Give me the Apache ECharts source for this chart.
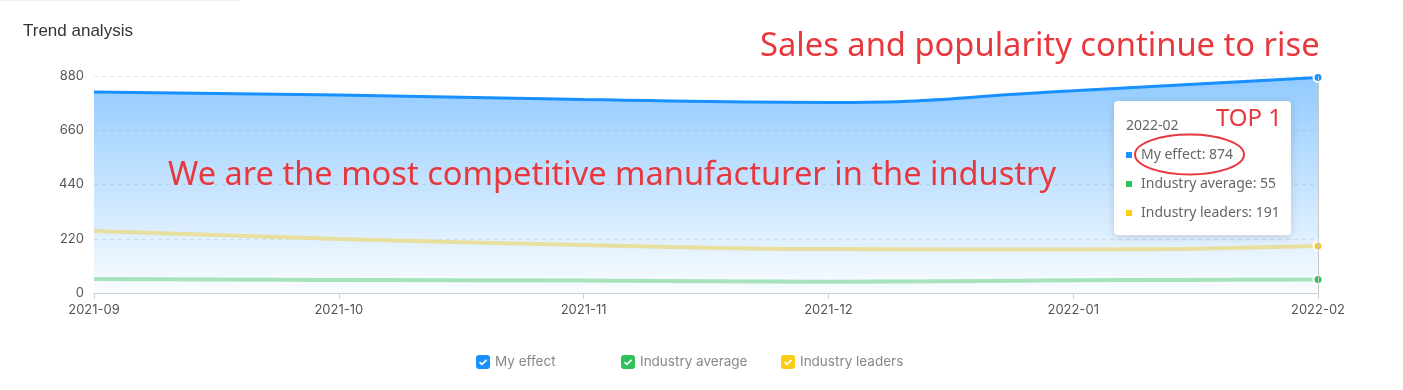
<!DOCTYPE html>
<html><head><meta charset="utf-8">
<script src="https://cdn.jsdelivr.net/npm/echarts@6/dist/echarts.min.js"></script>
<style>html,body{margin:0;padding:0;background:#fff}#c{width:1403px;height:390px}</style>
</head><body><div id="c"></div>
<script>
const categories = ['2021-09','2021-10','2021-11','2021-12','2022-01','2022-02'];
const myEffect = [815, 803, 785, 773, 820, 874];
const industryAverage = [57, 53, 51, 46, 52, 55];
const industryLeaders = [251, 219, 195, 178, 176, 191];
const yTicks = [0, 220, 440, 660, 880];
const seriesNames = ['My effect', 'Industry average', 'Industry leaders'];
const colors = ['#1890ff', '#2fc25b', '#facc14'];
const lineColors = ['#1890ff', '#a6e3bb', '#e8df9e'];

const checkIcon = 'path://M3 0H11Q14 0 14 3V11Q14 14 11 14H3Q0 14 0 11V3Q0 0 3 0ZM3.0 7.7L5.8 10.5L11.2 5.5L10.0 4.3L5.8 8.3L4.2 6.6Z';

const last = categories.length - 1;
function withEndSymbol(arr, color) {
  return arr.map((v, i) => i === last ? {value: v, symbol: 'circle', symbolSize: 9,
    itemStyle: {color: color, borderColor: '#fff', borderWidth: 2}} : {value: v, symbol: 'none'});
}

const tipFont = '14px "Noto Sans", sans-serif';
const allData = [myEffect, industryAverage, industryLeaders];
const legendLefts = [471, 616, 776];
const axisFont = 'Inter, "Noto Sans", sans-serif';

const chart = echarts.init(document.getElementById('c'));
chart.setOption({
  animation: false,
  title: {text: 'Trend analysis', left: 18, top: 18,
    textStyle: {fontSize: 17, fontWeight: 'normal', color: '#333', fontFamily: '"Liberation Sans", Arial, sans-serif'}},
  grid: {left: 94, right: 85, top: 76, bottom: 97},
  legend: seriesNames.map((n, i) => ({
    bottom: 16, left: legendLefts[i], itemWidth: 14, itemHeight: 14, icon: checkIcon,
    textStyle: {color: '#888', fontSize: 13.5, fontFamily: axisFont},
    data: [n]
  })),
  xAxis: {
    type: 'category', data: categories, boundaryGap: false,
    axisLine: {lineStyle: {color: '#d0d0d0'}},
    axisTick: {show: true, lineStyle: {color: '#d0d0d0'}, length: 6},
    axisLabel: {color: '#555', fontSize: 13, margin: 11, fontFamily: axisFont}
  },
  yAxis: {
    type: 'value', min: 0, max: yTicks[yTicks.length - 1], interval: yTicks[1] - yTicks[0],
    axisLine: {show: false}, axisTick: {show: false},
    axisLabel: {color: '#555', fontSize: 13, margin: 10, fontFamily: axisFont},
    splitLine: {lineStyle: {color: '#e8e8e8', type: [4, 4]}}
  },
  series: [
    {name: seriesNames[0], type: 'line', smooth: true, showSymbol: true, z: 2,
      data: withEndSymbol(myEffect, colors[0]),
      itemStyle: {color: colors[0]},
      lineStyle: {color: lineColors[0], width: 3},
      areaStyle: {color: new echarts.graphic.LinearGradient(0, 0, 0, 1, [
        {offset: 0, color: 'rgba(24,144,255,0.68)'},
        {offset: 1, color: 'rgba(24,144,255,0.03)'}])},
      markLine: {silent: true, symbol: 'none', label: {show: false},
        lineStyle: {color: '#c8c8c8', type: 'solid', width: 1},
        data: [{xAxis: categories[last]}]}
    },
    {name: seriesNames[1], type: 'line', smooth: true, showSymbol: true, z: 3,
      data: withEndSymbol(industryAverage, colors[1]),
      itemStyle: {color: colors[1]},
      lineStyle: {color: lineColors[1], width: 4}},
    {name: seriesNames[2], type: 'line', smooth: true, showSymbol: true, z: 3,
      data: withEndSymbol(industryLeaders, colors[2]),
      itemStyle: {color: colors[2]},
      lineStyle: {color: lineColors[2], width: 4}}
  ],
  graphic: [
    {type: 'line', shape: {x1: 0, y1: 0.5, x2: 240, y2: 0.5}, style: {stroke: '#eeeeee', lineWidth: 1}},
    {type: 'text', left: 760, top: 30, zlevel: 1,
      style: {text: 'Sales and popularity continue to rise', fill: '#e8383d', font: '32.7px "Noto Sans", sans-serif'}},
    {type: 'text', left: 168, top: 159, zlevel: 1,
      style: {text: 'We are the most competitive manufacturer in the industry', fill: '#e8383d', font: '32.6px "Noto Sans", sans-serif'}},
    {type: 'rect', zlevel: 1, z: 10, shape: {x: 1114, y: 101, width: 177, height: 134, r: 4},
      style: {fill: '#ffffff', shadowBlur: 8, shadowColor: 'rgba(0,0,0,0.15)', shadowOffsetY: 2}},
    {type: 'text', zlevel: 1, z: 11, x: 1126, y: 126, style: {text: categories[last], fill: '#666', font: tipFont, verticalAlign: 'middle'}},
    ...allData.flatMap((arr, i) => [
      {type: 'rect', zlevel: 1, z: 11, shape: {x: 1126, y: 152 + i * 29, width: 6, height: 6}, style: {fill: colors[i]}},
      {type: 'text', zlevel: 1, z: 11, x: 1141, y: 155 + i * 29, style: {text: seriesNames[i] + ': ' + arr[last], fill: '#666', font: tipFont, verticalAlign: 'middle'}}
    ]),
    {type: 'text', zlevel: 1, z: 12, x: 1216, y: 119, style: {text: 'TOP 1', fill: '#e8383d', font: '24px "Noto Sans", sans-serif', verticalAlign: 'middle'}},
    {type: 'ellipse', zlevel: 1, z: 12, shape: {cx: 1189.5, cy: 154.5, rx: 54.5, ry: 20}, style: {fill: 'none', stroke: '#e8383d', lineWidth: 2}}
  ]
});
</script></body></html>
